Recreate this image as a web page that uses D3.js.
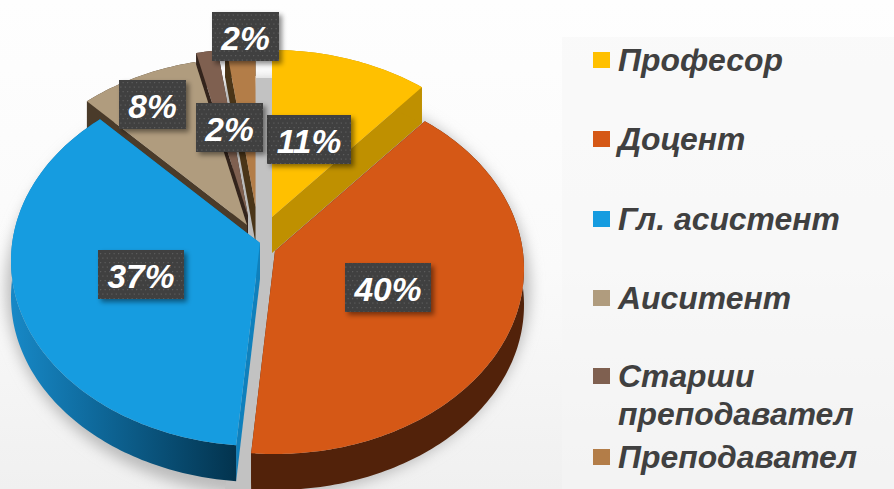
<!DOCTYPE html>
<html><head><meta charset="utf-8">
<script src="https://cdn.jsdelivr.net/npm/d3@7/dist/d3.min.js"></script>
<style>html,body{margin:0;padding:0;background:#fff;overflow:hidden}svg{display:block}</style>
</head><body><svg id="c" width="894" height="489"></svg>
<script>
const categories = ["Професор","Доцент","Гл. асистент","Аиситент","Старши преподавател","Преподавател"];
const values = [11,40,37,8,2,2];
const topColors = ["#ffc000","#d55816","#169ce0","#b09c7e","#7f6050","#b37d48"];
const sideColors = ["#bf9000","#52220a","#0f80bc","#4a3b2a","#33241c","#4a3518"];
// exploded slice apex positions (layout)
const apexX = [272,275,260,247,248,255.5];
const apexY = [217,251,243,225,216,207];
const labelX = [267,345,98,119,196,212];
const labelY = [115,263,250,80,103,12];
const labelW = [84,86,86,67,67,67];
const legendLines = [["Професор"],["Доцент"],["Гл. асистент"],["Аиситент"],["Старши","преподавател"],["Преподавател"]];
const legendBaseline = [71,150,230,309,387,468];

const RX=249, RY_TOP=167, RY_BOT=203, DEPTH=36, TAU=Math.PI*2;
const RY=(RY_TOP+RY_BOT)/2, CY=(RY_BOT-RY_TOP)/2;
const svg=d3.select("#c"), defs=svg.append("defs");

// perspective distortion of the 3D view: value angle (deg) -> drawn angle (deg)
const perspective=d3.scaleLinear().domain([0,39.6,183.6,316.8,345.6,352.8,360]).range([0,37,185.5,320,348,353,360]);
const pie=d3.pie().sort(null).value(d=>d).startAngle(0).endAngle(TAU);
const arcs=pie(values);

function pt(i,a,dz=0){
  return [apexX[i]+RX*Math.sin(a), apexY[i]+CY-RY*Math.cos(a)+dz];
}
const line=d3.line();
function rimPts(i,a0,a1,dz){
  const n=Math.max(4,Math.ceil((a1-a0)/0.02));
  return d3.range(n+1).map(k=>pt(i,a0+(a1-a0)*k/n,dz));
}

// defs
const bg=defs.append("linearGradient").attr("id","bg").attr("x1",0).attr("y1",0).attr("x2",0).attr("y2",1);
bg.append("stop").attr("offset",0).attr("stop-color","#fefefe");
bg.append("stop").attr("offset",.55).attr("stop-color","#fafafa");
bg.append("stop").attr("offset",1).attr("stop-color","#f0f0f0");
const bl=defs.append("linearGradient").attr("id","blueRim").attr("gradientUnits","userSpaceOnUse").attr("x1",12).attr("y1",0).attr("x2",234).attr("y2",0);
bl.append("stop").attr("offset",0).attr("stop-color","#1788c6");
bl.append("stop").attr("offset",.35).attr("stop-color","#0f6b9e");
bl.append("stop").attr("offset",1).attr("stop-color","#03344f");
defs.append("filter").attr("id","blur").attr("x","-20%").attr("y","-20%").attr("width","140%").attr("height","140%")
  .append("feGaussianBlur").attr("stdDeviation",7);
const sh=defs.append("filter").attr("id","boxShadow").attr("x","-20%").attr("y","-20%").attr("width","150%").attr("height","150%");
sh.append("feDropShadow").attr("dx",3).attr("dy",3).attr("stdDeviation",2.5).attr("flood-color","#000").attr("flood-opacity",.45);
const pat=defs.append("pattern").attr("id","dots").attr("patternUnits","userSpaceOnUse").attr("width",9).attr("height",9);
pat.append("rect").attr("width",9).attr("height",9).attr("fill","#404040");
[[1,1],[5.5,1],[3.25,5.5],[7.75,5.5]].forEach(p=>pat.append("rect").attr("x",p[0]).attr("y",p[1]).attr("width",1.2).attr("height",1.2).attr("fill","#5c5c5c"));

// background and legend panel
svg.append("rect").attr("width",894).attr("height",489).attr("fill","url(#bg)");
svg.append("rect").attr("x",562).attr("y",37).attr("width",332).attr("height",452).attr("fill","#f6f6f6").attr("opacity",.5);

// shadow under the pie
svg.append("ellipse").attr("cx",268).attr("cy",288).attr("rx",262).attr("ry",208).attr("fill","#bbb").attr("filter","url(#blur)");
svg.append("path").attr("d",line([[256,78],[272,78],[280,260],[256,489],[225,489],[256,260]])).attr("fill","#c2c2c2");

// slices: back to front
const order=[5,4,3,0,2,1];
order.forEach(i=>{
  const a=arcs[i];
  const a0=perspective(a.startAngle*360/TAU)*TAU/360, a1=perspective(a.endAngle*360/TAU)*TAU/360;
  const g=svg.append("g").attr("class","slice");
  const A=[apexX[i],apexY[i]];
  const Ad=[apexX[i],apexY[i]+DEPTH];
  // radial faces
  [a0,a1].forEach(t=>{
    g.append("path").attr("d",line([A,pt(i,t),pt(i,t,DEPTH),Ad])+"Z").attr("fill",sideColors[i]);
  });
  // outer rim
  const rim=rimPts(i,a0,a1,0).concat(rimPts(i,a0,a1,DEPTH).reverse());
  g.append("path").attr("d",line(rim)+"Z").attr("fill",i===2?"url(#blueRim)":sideColors[i]);
  // top
  g.append("path").attr("d",line([A].concat(rimPts(i,a0,a1,0)))+"Z").attr("fill",topColors[i]);
});

// data labels
values.forEach((v,i)=>{
  const g=svg.append("g").attr("class","label");
  g.append("rect").attr("x",labelX[i]).attr("y",labelY[i]).attr("width",labelW[i]).attr("height",49)
    .attr("fill","url(#dots)").attr("filter","url(#boxShadow)");
  g.append("text").attr("x",labelX[i]+labelW[i]/2).attr("y",labelY[i]+38)
    .attr("text-anchor","middle").attr("fill","#fff")
    .style("font","italic bold 33.5px 'Liberation Sans',Arial,sans-serif").text(v+"%");
});

// legend
categories.forEach((c,i)=>{
  const g=svg.append("g").attr("class","legend");
  g.append("rect").attr("x",593).attr("y",legendBaseline[i]-19).attr("width",17).attr("height",16).attr("fill",topColors[i]);
  legendLines[i].forEach((t,k)=>{
    g.append("text").attr("x",618).attr("y",legendBaseline[i]+k*38).attr("fill","#404040")
      .style("font","italic bold 31.9px 'Liberation Sans',Arial,sans-serif").text(t);
  });
});
</script></body></html>
